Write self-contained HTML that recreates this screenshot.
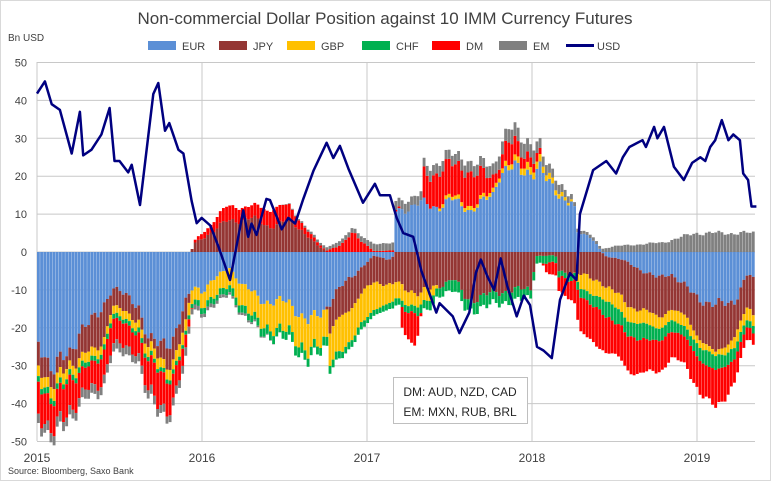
<!DOCTYPE html>
<html><head><meta charset="utf-8"><style>
body{margin:0;background:#fff;}
svg{display:block;font-family:"Liberation Sans",sans-serif;}
</style></head><body>
<svg id="c" width="771" height="481" viewBox="0 0 771 481" xmlns="http://www.w3.org/2000/svg">
<rect x="0.5" y="0.5" width="770" height="480" fill="#fff" stroke="#d9d9d9"/>
<text x="385" y="24" text-anchor="middle" font-size="17" fill="#404040">Non-commercial Dollar Position against 10 IMM Currency Futures</text>
<text x="8" y="41" font-size="10" fill="#404040">Bn USD</text>
<g font-size="11" fill="#404040">
<rect x="148" y="41" width="28" height="9" fill="#5b8fd6"/><text x="182" y="50">EUR</text>
<rect x="219" y="41" width="28" height="9" fill="#943634"/><text x="253" y="50">JPY</text>
<rect x="287" y="41" width="28" height="9" fill="#ffc000"/><text x="321" y="50">GBP</text>
<rect x="362" y="41" width="28" height="9" fill="#00b050"/><text x="396" y="50">CHF</text>
<rect x="432" y="41" width="28" height="9" fill="#ff0000"/><text x="466" y="50">DM</text>
<rect x="499" y="41" width="28" height="9" fill="#808080"/><text x="533" y="50">EM</text>
<rect x="566" y="44" width="28" height="3" fill="#000080"/><text x="597" y="50">USD</text>
</g>
<g id="grid" stroke="#c8c8c8" stroke-width="1"></g>
<g id="bars"></g>
<g id="axis"></g>
<polyline id="usd" fill="none" stroke="#000080" stroke-width="2.5" stroke-linejoin="round"/>
<rect x="393.5" y="377.5" width="134" height="46" fill="#fff" stroke="#bfbfbf"/>
<text x="460" y="396" text-anchor="middle" font-size="12" fill="#262626">DM: AUD, NZD, CAD</text>
<text x="460" y="416" text-anchor="middle" font-size="12" fill="#262626">EM: MXN, RUB, BRL</text>
<text x="8" y="474" font-size="9" fill="#404040">Source: Bloomberg, Saxo Bank</text>
</svg>
<script>
var NS="http://www.w3.org/2000/svg";
function el(t,a,p){var e=document.createElementNS(NS,t);for(var k in a)e.setAttribute(k,a[k]);p.appendChild(e);return e;}
var X0=37,PY=165,Y0=252,SY=3.79;
function X(t){return X0+t*PY;} function Y(v){return Y0-v*SY;}
var grid=document.getElementById('grid'),axis=document.getElementById('axis');
for(var yr=0;yr<=4;yr++){el('line',{x1:X(yr),x2:X(yr),y1:62,y2:441},grid);
 var tx=el('text',{x:X(yr),y:462,'text-anchor':'middle','font-size':'12',fill:'#404040'},axis);tx.textContent=2015+yr;}
for(var v=-50;v<=50;v+=10){el('line',{x1:X0,x2:755,y1:Y(v),y2:Y(v)},grid);
 var t=el('text',{x:27,y:Y(v)+4,'text-anchor':'end','font-size':'11',fill:'#404040'},axis);t.textContent=v;}
function pw(pts,t){if(t<=pts[0][0])return pts[0][1];for(var i=0;i<pts.length-1;i++){if(t<=pts[i+1][0]){var a=pts[i],b=pts[i+1];return a[1]+(b[1]-a[1])*(t-a[0])/(b[0]-a[0]);}}return pts[pts.length-1][1];}
function nz(i,s){return Math.sin(i*1.7+s*3.1)*0.5+Math.sin(i*0.63+s*2)*0.5;}
var S={
eur:[[0,-23],[.11,-31],[.2,-27],[.26,-20],[.36,-18],[.46,-9],[.56,-12.6],[.62,-14],[.685,-24],[.75,-25],[.83,-22],[.95,-9],[1.0,-10],[1.17,-4],[1.25,-9],[1.37,-12.6],[1.45,-13.5],[1.53,-13],[1.65,-18.8],[1.73,-16],[1.81,-11],[1.97,-4],[2.05,-1],[2.13,-2],[2.17,-1],[2.18,11],[2.28,12],[2.34,12.8],[2.44,12],[2.52,13.7],[2.6,12],[2.64,11],[2.77,15],[2.81,21.6],[2.87,22],[2.95,21],[3.05,22.5],[3.1,18],[3.22,13.7],[3.26,12.8],[3.28,5],[3.37,4],[3.43,0],[3.45,-1],[3.55,-2],[3.67,-4.7],[3.77,-7],[3.85,-5.5],[3.98,-11],[4.12,-14.4],[4.24,-12.6],[4.32,-5.6],[4.36,-8]],
jpy:[[0,-6],[.2,-3],[.26,-7],[.4,-9],[.46,-5],[.6,-4],[.7,-2],[.8,-6],[.9,-6],[.95,2],[1.05,5],[1.15,8],[1.3,9],[1.41,6.7],[1.53,8.4],[1.61,5.8],[1.71,1.4],[1.76,0.2],[1.77,-8],[1.9,-8],[1.97,-7],[2.13,-6.5],[2.21,-9],[2.33,-11],[2.53,-7],[2.61,-12.6],[2.87,-10],[3.0,-10],[3.03,-1],[3.15,-1],[3.17,-5],[3.3,-6],[3.45,-8],[3.6,-11],[3.8,-10],[3.95,-8],[4.12,-13],[4.24,-9],[4.32,-9]],
gbp:[[0,-3],[.5,-2],[.9,-3],[1.0,-4],[1.2,-5],[1.41,-7],[1.6,-8],[1.75,-8],[1.9,-9],[2.05,-7],[2.2,-4],[2.4,-3],[2.45,1],[2.8,1],[2.87,1.5],[3.05,2],[3.26,0.5],[3.3,-4],[3.45,-4],[3.6,-4],[3.8,-3],[3.95,-3],[4.12,-1],[4.24,-3],[4.32,-3]],
chf:[[0,-1.5],[.9,-1],[1.0,-1.5],[1.6,-2.5],[1.8,-2],[2.1,-1.5],[2.3,-2],[2.6,-3],[2.9,-3],[3.05,-2],[3.2,-1.5],[3.3,-2],[3.45,-4],[3.7,-4],[3.9,-2.5],[4.12,-4],[4.32,-2]],
dm:[[0,-8],[.2,-8],[.3,-6],[.45,-7],[.6,-5],[.7,-9],[.8,-8],[.9,-4],[.95,0.5],[1.1,3],[1.2,4],[1.3,3],[1.45,5],[1.55,3],[1.65,1.5],[1.75,0.2],[1.85,2],[1.92,5],[1.97,3],[2.05,0.2],[2.2,0.5],[2.22,-6],[2.3,-8],[2.33,-2],[2.35,8],[2.6,9],[2.7,7],[2.8,2],[2.87,6],[2.95,3],[3.05,2],[3.1,-3],[3.26,-5],[3.3,-10],[3.5,-9],[3.7,-9],[3.85,-7],[4.0,-8],[4.12,-10],[4.24,-6],[4.32,-3]],
em:[[0,-2.5],[.9,-2],[1.0,-1],[1.3,-0.5],[1.8,1],[2.0,1.5],[2.1,2],[2.3,2.5],[2.8,3],[2.9,4],[3.2,2],[3.3,0.8],[3.43,0.8],[3.5,1.5],[3.8,2.5],[4.0,5],[4.32,5]]
};
var order=['eur','jpy','gbp','chf','dm','em'];
var col={eur:'#5b8fd6',jpy:'#943634',gbp:'#ffc000',chf:'#00b050',dm:'#ff0000',em:'#808080'};
var bars=document.getElementById('bars');
var N=229,pitch=(755-X0)/N;
for(var i=0;i<N;i++){var t=(i+0.5)/N*4.36;var pos=0,neg=0;
 for(var k=0;k<order.length;k++){var s=order[k];var v=pw(S[s],t)*(1+0.14*nz(i,k));
  if(Math.abs(v)<0.05)continue;
  var y1,y2;if(v>0){y1=Y(pos+v);y2=Y(pos);pos+=v;}else{y1=Y(neg);y2=Y(neg+v);neg+=v;}
  el('rect',{x:(X0+i*pitch).toFixed(2),y:y1.toFixed(2),width:(pitch-0.3).toFixed(2),height:(y2-y1).toFixed(2),fill:col[s]},bars);}
}
var U=[[0,41.8],[.048,45],[.089,39],[.139,37.5],[.21,26],[.26,37],[.28,25.5],[.33,27],[.39,31],[.44,38],[.47,24],[.5,24],[.553,21],[.574,23],[.624,12.4],[.705,41.7],[.735,44.6],[.776,32],[.802,34],[.857,27],[.887,26],[.937,13.5],[.968,7.6],[.998,9],[1.05,7],[1.1,1.4],[1.17,-7.4],[1.22,4],[1.25,11],[1.28,4],[1.3,7.5],[1.33,4.5],[1.39,14],[1.412,13.7],[1.483,6],[1.523,9],[1.564,7.5],[1.614,14],[1.675,21.4],[1.755,28.8],[1.796,24.8],[1.836,28],[1.887,22],[1.976,13],[2.048,18],[2.079,15],[2.139,15],[2.18,9],[2.22,5],[2.28,4],[2.33,-5],[2.42,-16],[2.44,-13.5],[2.52,-17],[2.56,-21.4],[2.62,-16],[2.66,-5.5],[2.69,-2],[2.73,-6.5],[2.77,-10],[2.81,-1.7],[2.85,-9],[2.907,-17],[2.95,-11.5],[2.988,-14],[3.03,-25],[3.07,-26],[3.12,-28],[3.17,-12.6],[3.23,-5.6],[3.27,-7.4],[3.29,10],[3.37,21.6],[3.45,24],[3.51,20.7],[3.55,25],[3.59,27.7],[3.67,29.5],[3.69,27.7],[3.74,33],[3.76,30],[3.80,33],[3.86,22.5],[3.92,19],[3.97,23.5],[4.02,25],[4.05,24],[4.08,27.7],[4.11,29.5],[4.15,34.8],[4.19,29.5],[4.22,31],[4.26,29.5],[4.28,20.7],[4.31,19],[4.33,12],[4.36,12]];
var p=[];for(var i=0;i<U.length;i++)p.push(X(U[i][0]).toFixed(1)+','+Y(U[i][1]).toFixed(1));
document.getElementById('usd').setAttribute('points',p.join(' '));
</script>
</body></html>
